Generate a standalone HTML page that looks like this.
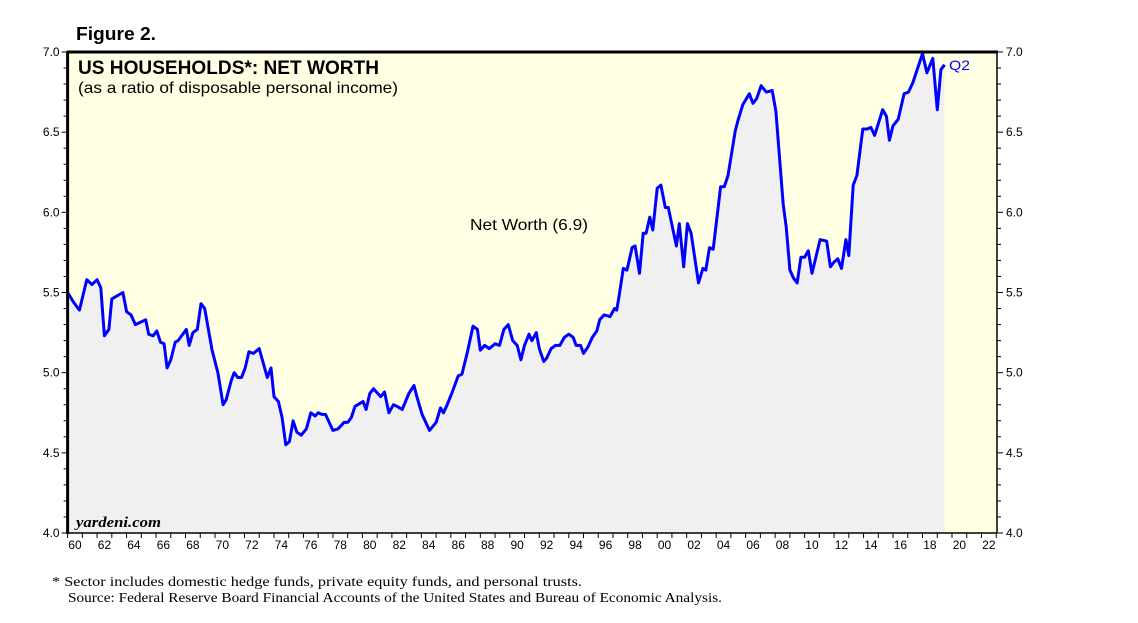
<!DOCTYPE html>
<html><head><meta charset="utf-8"><style>
body{margin:0;background:#fff;}
svg{display:block;font-family:"Liberation Sans",sans-serif;}
</style></head><body>
<svg id="c" width="1138" height="623"></svg>
<script>
const years=[1960.0,1960.4,1960.8,1961.3,1961.65,1962.0,1962.25,1962.5,1962.8,1963.0,1963.75,1964.0,1964.3,1964.6,1965.3,1965.5,1965.8,1966.05,1966.3,1966.55,1966.75,1967.0,1967.3,1967.5,1968.05,1968.25,1968.5,1968.8,1969.05,1969.3,1969.8,1970.2,1970.55,1970.75,1971.1,1971.3,1971.55,1971.8,1972.05,1972.3,1972.6,1973.0,1973.55,1973.8,1974.0,1974.3,1974.55,1974.8,1975.05,1975.3,1975.55,1975.85,1976.2,1976.5,1976.8,1977.0,1977.25,1977.5,1978.0,1978.35,1978.75,1979.0,1979.25,1979.5,1980.05,1980.25,1980.5,1980.75,1981.25,1981.5,1981.8,1982.1,1982.35,1982.7,1983.15,1983.5,1983.7,1984.05,1984.55,1985.0,1985.3,1985.5,1985.75,1986.1,1986.5,1986.75,1987.1,1987.5,1987.8,1988.0,1988.3,1988.6,1989.0,1989.3,1989.6,1989.9,1990.2,1990.5,1990.75,1991.0,1991.3,1991.5,1991.8,1992.0,1992.3,1992.5,1992.8,1993.1,1993.4,1993.7,1994.0,1994.3,1994.5,1994.8,1995.0,1995.3,1995.6,1995.9,1996.1,1996.4,1996.8,1997.1,1997.25,1997.4,1997.7,1997.95,1998.3,1998.5,1998.8,1999.05,1999.25,1999.5,1999.7,2000.0,2000.25,2000.55,2000.75,2001.3,2001.5,2001.8,2002.05,2002.3,2002.8,2003.1,2003.3,2003.55,2003.8,2004.3,2004.55,2004.8,2005.3,2005.5,2005.8,2006.25,2006.5,2006.75,2007.05,2007.4,2007.8,2008.05,2008.55,2008.75,2009.0,2009.25,2009.5,2009.75,2010.0,2010.25,2010.5,2011.05,2011.5,2011.75,2012.0,2012.25,2012.5,2012.8,2013.0,2013.3,2013.55,2013.95,2014.25,2014.5,2014.75,2015.3,2015.55,2015.75,2016.0,2016.35,2016.75,2017.05,2017.35,2018.0,2018.3,2018.7,2019.0,2019.25,2019.5];
const values=[5.50,5.44,5.39,5.58,5.55,5.58,5.53,5.23,5.27,5.46,5.50,5.38,5.36,5.30,5.33,5.24,5.23,5.26,5.19,5.18,5.03,5.08,5.19,5.20,5.27,5.17,5.25,5.27,5.43,5.40,5.14,5.00,4.80,4.83,4.95,5.00,4.97,4.97,5.03,5.13,5.12,5.15,4.97,5.03,4.85,4.82,4.72,4.55,4.57,4.70,4.63,4.61,4.65,4.75,4.73,4.75,4.74,4.74,4.64,4.65,4.69,4.69,4.72,4.79,4.82,4.77,4.87,4.90,4.85,4.88,4.75,4.80,4.79,4.77,4.87,4.92,4.85,4.74,4.64,4.69,4.78,4.75,4.80,4.88,4.98,4.99,5.12,5.29,5.27,5.14,5.17,5.15,5.18,5.17,5.27,5.30,5.20,5.17,5.08,5.17,5.24,5.20,5.25,5.15,5.07,5.09,5.15,5.17,5.17,5.22,5.24,5.22,5.17,5.17,5.12,5.16,5.22,5.26,5.33,5.36,5.35,5.40,5.39,5.47,5.65,5.64,5.78,5.79,5.62,5.87,5.87,5.97,5.89,6.15,6.17,6.03,6.03,5.79,5.93,5.66,5.93,5.87,5.56,5.65,5.64,5.78,5.77,6.16,6.16,6.23,6.51,6.58,6.67,6.74,6.68,6.71,6.79,6.75,6.76,6.63,6.05,5.91,5.64,5.59,5.56,5.72,5.72,5.76,5.62,5.83,5.82,5.66,5.69,5.71,5.65,5.83,5.73,6.17,6.23,6.52,6.52,6.53,6.48,6.64,6.60,6.45,6.54,6.58,6.74,6.75,6.81,6.99,6.87,6.96,6.64,6.89,6.92];
const yTicks=[4.0,4.5,5.0,5.5,6.0,6.5,7.0];
const xLabels=["60","62","64","66","68","70","72","74","76","78","80","82","84","86","88","90","92","94","96","98","00","02","04","06","08","10","12","14","16","18","20","22"];

const L=67.6,R=997,T=52,B=533;
const X=y=>L+(y-1960)*14.74;
const Y=v=>T+(7-v)*(B-T)/3;
const svg=document.getElementById('c');
const NS='http://www.w3.org/2000/svg';
function mk(tag,attrs,txt){const e=document.createElementNS(NS,tag);for(const k in attrs)e.setAttribute(k,attrs[k]);if(txt!==undefined)e.textContent=txt;svg.appendChild(e);return e;}

let e=mk('rect',{x:L,y:T,width:R-L,height:B-T,fill:'#ffffe3'});



let pts=years.map((y,i)=>X(y).toFixed(1)+','+Y(values[i]).toFixed(1));
const last=X(years[years.length-1]);
e=mk('path',{d:'M'+X(years[0])+','+B+' L'+pts.join(' L')+' L'+last+','+B+' Z',fill:'#f0f0f0'});



e=mk('polyline',{points:pts.join(' '),fill:'none',stroke:'#0000ff','stroke-width':3,'stroke-linejoin':'round'});



for(let v=4.0;v<=7.001;v+=0.1){
  const y=Y(v),maj=Math.abs(v*2-Math.round(v*2))<0.01;
  const len=maj?6:4;
  mk('line',{x1:L-len,x2:L,y1:y,y2:y,stroke:'#000'});
  mk('line',{x1:R,x2:R+len,y1:y,y2:y,stroke:'#000'});
}
yTicks.forEach(v=>{
  let t=mk('text',{x:L-8,y:Y(v)+4,'text-anchor':'end','font-size':12},v.toFixed(1));
  
  
  t=mk('text',{x:R+9,y:Y(v)+4,'font-size':12},v.toFixed(1));
  
  
});
for(let yr=1960;yr<=2023;yr++){const x=X(yr);if(x>R+1)break;mk('line',{x1:x,x2:x,y1:B,y2:B+5,stroke:'#000'});}
xLabels.forEach((s,i)=>{
  const t=mk('text',{x:X(1960+2*i+0.5),y:B+16,'text-anchor':'middle','font-size':12},s);
  
  
});
mk('line',{x1:L,x2:L,y1:T,y2:B+1,stroke:'#000','stroke-width':3});
mk('line',{x1:L-1,x2:R+1,y1:T,y2:T,stroke:'#000','stroke-width':3});
mk('line',{x1:L,x2:R,y1:B,y2:B,stroke:'#000','stroke-width':1.5});
mk('line',{x1:R,x2:R,y1:T,y2:B,stroke:'#000','stroke-width':1.5});

function txt(x,y,s,attrs,name){const t=mk('text',Object.assign({x:x,y:y},attrs),s);return t;}
txt(76,40,'Figure 2.',{'font-size':18,'font-weight':'bold',textLength:80,lengthAdjust:'spacingAndGlyphs'},'figure-label');
txt(78,74,'US HOUSEHOLDS*: NET WORTH',{'font-size':19,'font-weight':'bold',textLength:301,lengthAdjust:'spacingAndGlyphs'},'chart-title');
txt(78,93,'(as a ratio of disposable personal income)',{'font-size':16,textLength:320,lengthAdjust:'spacingAndGlyphs'},'chart-subtitle');
txt(470,230,'Net Worth (6.9)',{'font-size':16,textLength:118,lengthAdjust:'spacingAndGlyphs'},'series-label');
txt(949,70,'Q2',{'font-size':14,fill:'#0000ff',textLength:21,lengthAdjust:'spacingAndGlyphs'},'q2-label');
txt(76,527,'yardeni.com',{'font-size':15,'font-style':'italic','font-weight':'bold','font-family':'Liberation Serif, serif',textLength:85,lengthAdjust:'spacingAndGlyphs'},'source-watermark');
txt(52,586,'*   Sector includes domestic hedge funds, private equity funds, and personal trusts.',{'font-size':14,'font-family':'Liberation Serif, serif',textLength:530,lengthAdjust:'spacingAndGlyphs'},'footnote');
txt(68,602,'Source: Federal Reserve Board Financial Accounts of the United States and Bureau of Economic Analysis.',{'font-size':14,'font-family':'Liberation Serif, serif',textLength:654,lengthAdjust:'spacingAndGlyphs'},'source-note');
</script>
</body></html>
